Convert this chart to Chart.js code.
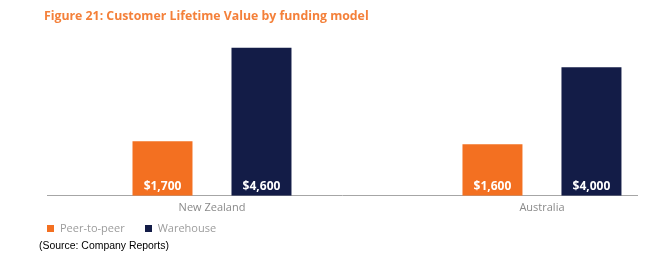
<!DOCTYPE html>
<html>
<head>
<meta charset="utf-8">
<script src="https://cdn.jsdelivr.net/npm/chart.js@4"></script>
<style>
  body { margin: 0; background: #fff; overflow: hidden; }
  #wrap { position: relative; width: 662px; height: 263px; }
  #title {
    position: absolute; left: 44px; top: 7px;
    font: bold 12.3px "Open Sans", sans-serif; color: #F4803A;
    white-space: nowrap;
  }
  #legend {
    position: absolute; left: 47px; top: 221px;
    display: flex; white-space: nowrap;
    font: 11px "Open Sans", sans-serif; color: #9c9c9c; line-height: 14px;
  }
  #legend .item { display: flex; align-items: center; margin-right: 20px; }
  #legend .box { width: 7px; height: 7px; margin-right: 6px; }
  #source {
    position: absolute; left: 39px; top: 240px;
    font-family: "Liberation Sans", Arial, sans-serif; font-size: 10.5px; color: #000;
    white-space: nowrap;
  }
</style>
</head>
<body>
<div id="wrap">
  <canvas id="ltvChart"></canvas>
  <div id="title">Figure 21: Customer Lifetime Value by funding model</div>
  <div id="legend"></div>
  <span id="source">(Source: Company Reports)</span>
</div>
<script>
// Chart values
const categories = ['New Zealand', 'Australia'];
const peerToPeer = [1700, 1600];
const warehouse = [4600, 4000];
const seriesNames = ['Peer-to-peer', 'Warehouse'];

const ORANGE = '#F37021';
const NAVY = '#131C47';

// Bars sit on a linear index scale so the groups can be placed like the original
function toPoints(values) {
    return values.map(function(v, i) { return { x: i, y: v }; });
}

function money(v) {
    return '$' + v.toLocaleString('en-US');
}

// keep the source note about as wide as in the original
const source = document.getElementById('source');
const srcWidth = source.getBoundingClientRect().width;
if (srcWidth > 0) {
    source.style.fontSize = Math.min(11, 10.5 * 130 / srcWidth) + 'px';
}

// White value labels at the foot of each bar
const valueLabels = {
    id: 'valueLabels',
    afterDatasetsDraw(chart) {
        const ctx = chart.ctx;
        ctx.save();
        ctx.fillStyle = '#ffffff';
        ctx.font = 'bold 12px "Open Sans", sans-serif';
        ctx.textAlign = 'center';
        ctx.textBaseline = 'middle';
        chart.data.datasets.forEach(function(ds, di) {
            const meta = chart.getDatasetMeta(di);
            meta.data.forEach(function(bar, i) {
                ctx.fillText(money(ds.data[i].y), bar.x, bar.base - 9.5);
            });
        });
        ctx.restore();
    }
};

// Legend built in html from the chart's own legend items
const htmlLegend = {
    id: 'htmlLegend',
    afterUpdate(chart) {
        const box = document.getElementById('legend');
        box.innerHTML = '';
        const items = chart.options.plugins.legend.labels.generateLabels(chart);
        items.forEach(function(item) {
            const el = document.createElement('div');
            el.className = 'item';
            const sw = document.createElement('span');
            sw.className = 'box';
            sw.style.background = item.fillStyle;
            const txt = document.createElement('span');
            txt.textContent = item.text;
            el.appendChild(sw);
            el.appendChild(txt);
            box.appendChild(el);
        });
    }
};

const ctx = document.getElementById('ltvChart');

new Chart(ctx, {
    type: 'bar',
    data: {
        datasets: [
            {
                label: seriesNames[0],
                data: toPoints(peerToPeer),
                backgroundColor: ORANGE,
                borderWidth: 0
            },
            {
                label: seriesNames[1],
                data: toPoints(warehouse),
                backgroundColor: NAVY,
                borderWidth: 0
            }
        ]
    },
    options: {
        responsive: true,
        maintainAspectRatio: false,
        animation: false,
        categoryPercentage: 0.6,
        barPercentage: 0.606,
        layout: {
            padding: { top: 35, left: 47, right: 25, bottom: 44 }
        },
        scales: {
            x: {
                type: 'linear',
                offset: false,
                min: -0.5,
                max: 1.288,
                grid: { display: false, drawTicks: false },
                border: { display: true, color: '#a6a6a6', width: 1 },
                ticks: {
                    stepSize: 1,
                    includeBounds: false,
                    autoSkip: false,
                    maxRotation: 0,
                    padding: 5,
                    color: '#8a8a8a',
                    font: { family: '"Open Sans", sans-serif', size: 11 },
                    callback: function(value) {
                        return categories[value] !== undefined ? categories[value] : '';
                    }
                }
            },
            y: {
                display: false,
                min: 0,
                max: 5000
            }
        },
        plugins: {
            legend: { display: false },
            tooltip: { enabled: false },
            title: { display: false }
        }
    },
    plugins: [valueLabels, htmlLegend]
});
</script>
</body>
</html>
